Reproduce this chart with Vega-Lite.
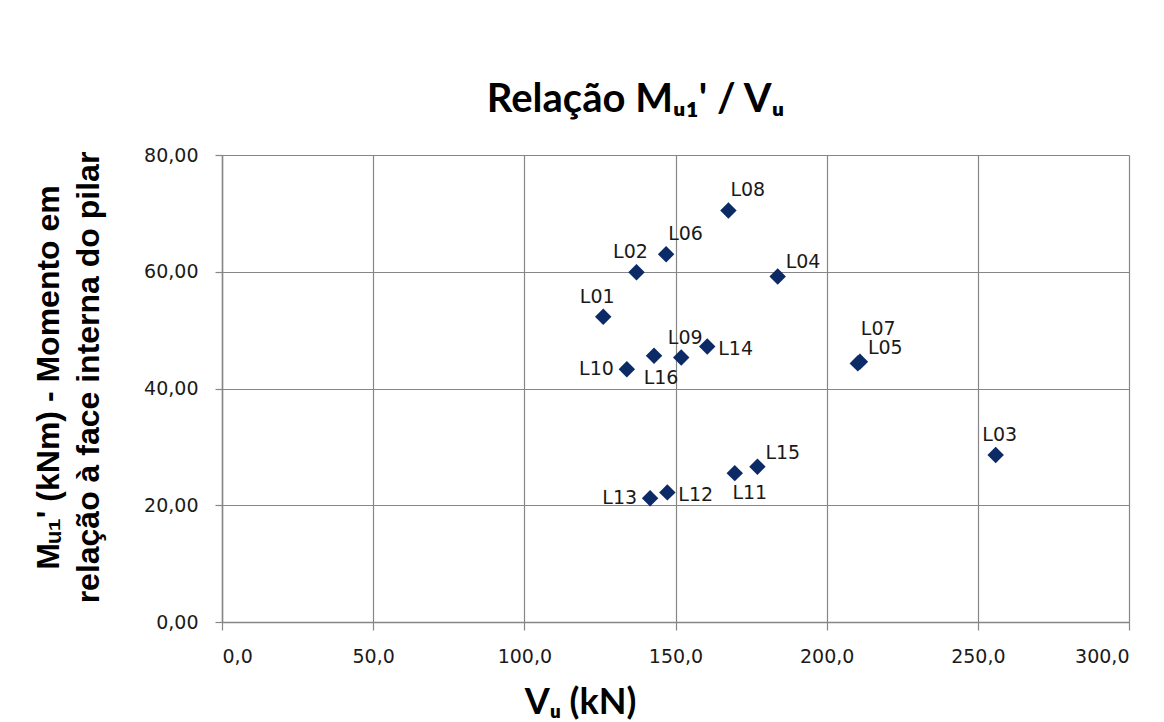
{
  "$schema": "https://vega.github.io/schema/vega-lite/v6.json",
  "width": 907,
  "height": 467,
  "autosize": {"type": "none"},
  "padding": {"left": 222, "top": 155, "right": 35, "bottom": 100},
  "background": "white",
  "config": {
    "locale": {"number": {"decimal": ",", "thousands": ".", "grouping": [3], "currency": ["", ""]}},
    "view": {"stroke": null},
    "axis": {
      "gridColor": "#868686", "gridWidth": 1.2, "gridOpacity": 1,
      "domainColor": "#868686", "domainWidth": 1.5,
      "tickColor": "#868686", "tickWidth": 1.2,
      "labelFont": "DejaVu Sans", "labelFontSize": 19, "labelColor": "#1a1a1a",
      "titleColor": "#000000"
    }
  },
  "title": {
    "text": "Relação Mᵤ₁' / Vᵤ",
    "font": "Lato", "fontSize": 40, "fontWeight": "bold", "color": "#000000",
    "anchor": "middle", "dx": -40, "offset": 26
  },
  "data": {
    "values": [
      {"id": "L01", "v": 126.1, "m": 52.3},
      {"id": "L02", "v": 137.1, "m": 59.9},
      {"id": "L03", "v": 255.9, "m": 28.6},
      {"id": "L04", "v": 183.8, "m": 59.2},
      {"id": "L05", "v": 211.0, "m": 44.6},
      {"id": "L06", "v": 146.9, "m": 63.0},
      {"id": "L07", "v": 210.3, "m": 44.3},
      {"id": "L08", "v": 167.5, "m": 70.5},
      {"id": "L09", "v": 151.9, "m": 45.3},
      {"id": "L10", "v": 133.9, "m": 43.3},
      {"id": "L11", "v": 169.6, "m": 25.5},
      {"id": "L12", "v": 147.3, "m": 22.2},
      {"id": "L13", "v": 141.6, "m": 21.2},
      {"id": "L14", "v": 160.5, "m": 47.2},
      {"id": "L15", "v": 177.1, "m": 26.6},
      {"id": "L16", "v": 142.9, "m": 45.6}
    ]
  },
  "encoding": {
    "x": {
      "field": "v", "type": "quantitative",
      "scale": {"domain": [0, 300], "nice": false, "zero": true},
      "axis": {
        "values": [0, 50, 100, 150, 200, 250, 300], "format": ".1f",
        "tickSize": 8, "labelPadding": 17,
        "title": "Vᵤ (kN)", "titleFont": "Lato", "titleFontSize": 36, "titleFontWeight": "bold",
        "titleX": 358, "titleY": 80, "titleBaseline": "middle", "titleAlign": "center", "titleAnchor": null
      }
    },
    "y": {
      "field": "m", "type": "quantitative",
      "scale": {"domain": [0, 80], "nice": false},
      "axis": {
        "values": [0, 20, 40, 60, 80], "format": ".2f",
        "tickSize": 7, "labelPadding": 17,
        "title": ["Mᵤ₁' (kNm) - Momento em", "relação à face interna do pilar"],
        "titleFont": "Liberation Sans", "titleFontSize": 32, "titleFontWeight": "bold",
        "titleLineHeight": 40, "titleAngle": -90,
        "titleX": -174, "titleY": 222, "titleBaseline": "middle", "titleAlign": "center"
      }
    }
  },
  "layer": [
    {
      "mark": {"type": "point", "shape": "diamond", "filled": true, "size": 270, "color": "#0b2a66", "opacity": 1}
    },
    {
      "transform": [{"filter": {"field": "id", "oneOf": ["L08", "L06"]}}],
      "mark": {"type": "text", "align": "left", "baseline": "middle", "dx": 2, "dy": -20, "font": "DejaVu Sans", "fontSize": 19, "color": "#1a1a1a"},
      "encoding": {"text": {"field": "id"}}
    },
    {
      "transform": [{"filter": {"field": "id", "oneOf": ["L04", "L15", "L05"]}}],
      "mark": {"type": "text", "align": "left", "baseline": "middle", "dx": 8, "dy": -14, "font": "DejaVu Sans", "fontSize": 19, "color": "#1a1a1a"},
      "encoding": {"text": {"field": "id"}}
    },
    {
      "transform": [{"filter": {"field": "id", "oneOf": ["L07"]}}],
      "mark": {"type": "text", "align": "left", "baseline": "middle", "dx": 3, "dy": -34, "font": "DejaVu Sans", "fontSize": 19, "color": "#1a1a1a"},
      "encoding": {"text": {"field": "id"}}
    },
    {
      "transform": [{"filter": {"field": "id", "oneOf": ["L01", "L02"]}}],
      "mark": {"type": "text", "align": "center", "baseline": "middle", "dx": -6, "dy": -20, "font": "DejaVu Sans", "fontSize": 19, "color": "#1a1a1a"},
      "encoding": {"text": {"field": "id"}}
    },
    {
      "transform": [{"filter": {"field": "id", "oneOf": ["L09", "L03"]}}],
      "mark": {"type": "text", "align": "center", "baseline": "middle", "dx": 4, "dy": -20, "font": "DejaVu Sans", "fontSize": 19, "color": "#1a1a1a"},
      "encoding": {"text": {"field": "id"}}
    },
    {
      "transform": [{"filter": {"field": "id", "oneOf": ["L14", "L12"]}}],
      "mark": {"type": "text", "align": "left", "baseline": "middle", "dx": 11, "dy": 3, "font": "DejaVu Sans", "fontSize": 19, "color": "#1a1a1a"},
      "encoding": {"text": {"field": "id"}}
    },
    {
      "transform": [{"filter": {"field": "id", "oneOf": ["L10", "L13"]}}],
      "mark": {"type": "text", "align": "right", "baseline": "middle", "dx": -13, "dy": 0, "font": "DejaVu Sans", "fontSize": 19, "color": "#1a1a1a"},
      "encoding": {"text": {"field": "id"}}
    },
    {
      "transform": [{"filter": {"field": "id", "oneOf": ["L16"]}}],
      "mark": {"type": "text", "align": "center", "baseline": "middle", "dx": 7, "dy": 22, "font": "DejaVu Sans", "fontSize": 19, "color": "#1a1a1a"},
      "encoding": {"text": {"field": "id"}}
    },
    {
      "transform": [{"filter": {"field": "id", "oneOf": ["L11"]}}],
      "mark": {"type": "text", "align": "center", "baseline": "middle", "dx": 15, "dy": 20, "font": "DejaVu Sans", "fontSize": 19, "color": "#1a1a1a"},
      "encoding": {"text": {"field": "id"}}
    }
  ]
}
